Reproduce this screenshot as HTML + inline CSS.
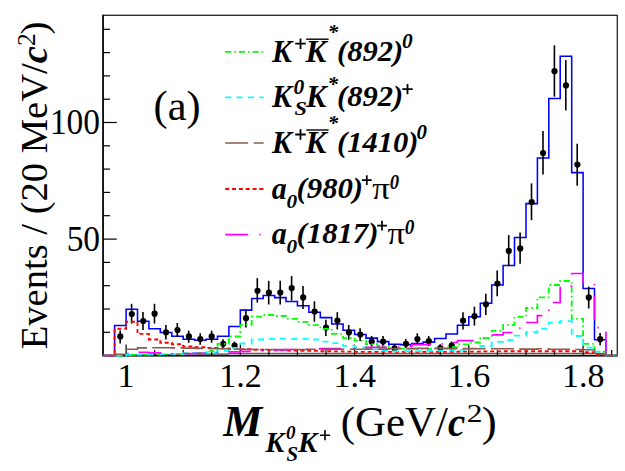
<!DOCTYPE html>
<html><head><meta charset="utf-8"><style>
html,body{margin:0;padding:0;background:#fff;}
body{width:625px;height:471px;overflow:hidden;position:relative;font-family:"Liberation Serif",serif;color:#000;}
svg{position:absolute;left:0;top:0;}
text{font-family:"Liberation Serif",serif;fill:#000;}
.bi{font-weight:bold;font-style:italic;}
</style></head><body>
<svg width="625" height="471" viewBox="0 0 625 471">
<rect x="103.2" y="15.3" width="514.1" height="340.3" fill="none" stroke="#1a1a1a" stroke-width="1.25"/>
<path d="M103.10 14.7V355.60H617.9" fill="none" stroke="#111" stroke-width="1.8" stroke-linejoin="miter"/>
<line x1="103.2" y1="355.6" x2="116.8" y2="355.6" stroke="#000" stroke-width="1.2"/>
<line x1="103.2" y1="332.3" x2="110.0" y2="332.3" stroke="#000" stroke-width="1.2"/>
<line x1="103.2" y1="309.0" x2="110.0" y2="309.0" stroke="#000" stroke-width="1.2"/>
<line x1="103.2" y1="285.7" x2="110.0" y2="285.7" stroke="#000" stroke-width="1.2"/>
<line x1="103.2" y1="262.4" x2="110.0" y2="262.4" stroke="#000" stroke-width="1.2"/>
<line x1="103.2" y1="239.1" x2="116.8" y2="239.1" stroke="#000" stroke-width="1.2"/>
<line x1="103.2" y1="215.7" x2="110.0" y2="215.7" stroke="#000" stroke-width="1.2"/>
<line x1="103.2" y1="192.4" x2="110.0" y2="192.4" stroke="#000" stroke-width="1.2"/>
<line x1="103.2" y1="169.1" x2="110.0" y2="169.1" stroke="#000" stroke-width="1.2"/>
<line x1="103.2" y1="145.8" x2="110.0" y2="145.8" stroke="#000" stroke-width="1.2"/>
<line x1="103.2" y1="122.5" x2="116.8" y2="122.5" stroke="#000" stroke-width="1.2"/>
<line x1="103.2" y1="99.2" x2="110.0" y2="99.2" stroke="#000" stroke-width="1.2"/>
<line x1="103.2" y1="75.9" x2="110.0" y2="75.9" stroke="#000" stroke-width="1.2"/>
<line x1="103.2" y1="52.6" x2="110.0" y2="52.6" stroke="#000" stroke-width="1.2"/>
<line x1="103.2" y1="29.3" x2="110.0" y2="29.3" stroke="#000" stroke-width="1.2"/>
<line x1="126.1" y1="355.6" x2="126.1" y2="344.4" stroke="#000" stroke-width="1.2"/>
<line x1="154.6" y1="355.6" x2="154.6" y2="350.0" stroke="#000" stroke-width="1.2"/>
<line x1="183.2" y1="355.6" x2="183.2" y2="350.0" stroke="#000" stroke-width="1.2"/>
<line x1="211.7" y1="355.6" x2="211.7" y2="350.0" stroke="#000" stroke-width="1.2"/>
<line x1="240.3" y1="355.6" x2="240.3" y2="344.4" stroke="#000" stroke-width="1.2"/>
<line x1="268.9" y1="355.6" x2="268.9" y2="350.0" stroke="#000" stroke-width="1.2"/>
<line x1="297.4" y1="355.6" x2="297.4" y2="350.0" stroke="#000" stroke-width="1.2"/>
<line x1="326.0" y1="355.6" x2="326.0" y2="350.0" stroke="#000" stroke-width="1.2"/>
<line x1="354.6" y1="355.6" x2="354.6" y2="344.4" stroke="#000" stroke-width="1.2"/>
<line x1="383.1" y1="355.6" x2="383.1" y2="350.0" stroke="#000" stroke-width="1.2"/>
<line x1="411.7" y1="355.6" x2="411.7" y2="350.0" stroke="#000" stroke-width="1.2"/>
<line x1="440.3" y1="355.6" x2="440.3" y2="350.0" stroke="#000" stroke-width="1.2"/>
<line x1="468.8" y1="355.6" x2="468.8" y2="344.4" stroke="#000" stroke-width="1.2"/>
<line x1="497.4" y1="355.6" x2="497.4" y2="350.0" stroke="#000" stroke-width="1.2"/>
<line x1="526.0" y1="355.6" x2="526.0" y2="350.0" stroke="#000" stroke-width="1.2"/>
<line x1="554.5" y1="355.6" x2="554.5" y2="350.0" stroke="#000" stroke-width="1.2"/>
<line x1="583.1" y1="355.6" x2="583.1" y2="344.4" stroke="#000" stroke-width="1.2"/>
<line x1="611.7" y1="355.6" x2="611.7" y2="350.0" stroke="#000" stroke-width="1.2"/>
<path d="M103.2 355.6 L103.2 355.6 L114.6 355.6 L114.6 325.5 L126.1 325.5 L126.1 309.2 L137.5 309.2 L137.5 321.3 L148.9 321.3 L148.9 328.8 L160.3 328.8 L160.3 332.5 L171.8 332.5 L171.8 336.3 L183.2 336.3 L183.2 339.3 L194.6 339.3 L194.6 340.2 L206.0 340.2 L206.0 339.3 L217.5 339.3 L217.5 336.3 L228.9 336.3 L228.9 326.5 L240.3 326.5 L240.3 310.1 L251.7 310.1 L251.7 298.5 L263.2 298.5 L263.2 295.5 L274.6 295.5 L274.6 297.6 L286.0 297.6 L286.0 301.5 L297.4 301.5 L297.4 305.7 L308.9 305.7 L308.9 312.2 L320.3 312.2 L320.3 317.6 L331.7 317.6 L331.7 323.9 L343.1 323.9 L343.1 330.2 L354.6 330.2 L354.6 334.4 L366.0 334.4 L366.0 338.1 L377.4 338.1 L377.4 341.6 L388.8 341.6 L388.8 344.2 L400.3 344.2 L400.3 344.6 L411.7 344.6 L411.7 343.5 L423.1 343.5 L423.1 342.1 L434.6 342.1 L434.6 338.4 L446.0 338.4 L446.0 333.9 L457.4 333.9 L457.4 325.3 L468.8 325.3 L468.8 316.7 L480.3 316.7 L480.3 303.2 L491.7 303.2 L491.7 285.0 L503.1 285.0 L503.1 265.4 L514.5 265.4 L514.5 237.4 L526.0 237.4 L526.0 203.6 L537.4 203.6 L537.4 157.9 L548.8 157.9 L548.8 98.5 L560.2 98.5 L560.2 56.3 L571.7 56.3 L571.7 172.6 L583.1 172.6 L583.1 288.5 L594.5 288.5 L594.5 339.7 L605.9 339.7 L605.9 355.6 L617.4 355.6 L617.4 355.6" fill="none" stroke="#0000ff" stroke-width="1.55" />
<line x1="120.2" y1="330.6" x2="120.2" y2="343.4" stroke="#000" stroke-width="1.6"/>
<circle cx="120.3" cy="336.4" r="3.1" fill="#000"/>
<line x1="131.6" y1="303.8" x2="131.6" y2="323.6" stroke="#000" stroke-width="1.6"/>
<circle cx="131.8" cy="314.0" r="3.1" fill="#000"/>
<line x1="143.0" y1="312.1" x2="143.0" y2="330.0" stroke="#000" stroke-width="1.6"/>
<circle cx="143.2" cy="321.0" r="3.1" fill="#000"/>
<line x1="154.5" y1="303.8" x2="154.5" y2="323.6" stroke="#000" stroke-width="1.6"/>
<circle cx="154.6" cy="313.7" r="3.1" fill="#000"/>
<line x1="165.9" y1="324.9" x2="165.9" y2="339.6" stroke="#000" stroke-width="1.6"/>
<circle cx="166.0" cy="332.3" r="3.1" fill="#000"/>
<line x1="177.3" y1="323.0" x2="177.3" y2="337.0" stroke="#000" stroke-width="1.6"/>
<circle cx="177.5" cy="330.0" r="3.1" fill="#000"/>
<line x1="188.7" y1="330.6" x2="188.7" y2="342.8" stroke="#000" stroke-width="1.6"/>
<circle cx="188.9" cy="336.4" r="3.1" fill="#000"/>
<line x1="200.2" y1="333.2" x2="200.2" y2="344.7" stroke="#000" stroke-width="1.6"/>
<circle cx="200.3" cy="339.0" r="3.1" fill="#000"/>
<line x1="211.6" y1="330.6" x2="211.6" y2="342.8" stroke="#000" stroke-width="1.6"/>
<circle cx="211.7" cy="336.4" r="3.1" fill="#000"/>
<line x1="223.0" y1="339.2" x2="223.0" y2="348.6" stroke="#000" stroke-width="1.6"/>
<circle cx="223.2" cy="343.8" r="3.1" fill="#000"/>
<line x1="234.4" y1="341.5" x2="234.4" y2="349.2" stroke="#000" stroke-width="1.6"/>
<circle cx="234.6" cy="345.6" r="3.1" fill="#000"/>
<line x1="245.9" y1="309.5" x2="245.9" y2="327.4" stroke="#000" stroke-width="1.6"/>
<circle cx="246.0" cy="318.2" r="3.1" fill="#000"/>
<line x1="257.3" y1="278.2" x2="257.3" y2="302.6" stroke="#000" stroke-width="1.6"/>
<circle cx="257.5" cy="290.8" r="3.1" fill="#000"/>
<line x1="268.7" y1="280.8" x2="268.7" y2="304.5" stroke="#000" stroke-width="1.6"/>
<circle cx="268.9" cy="292.6" r="3.1" fill="#000"/>
<line x1="280.2" y1="280.8" x2="280.2" y2="304.5" stroke="#000" stroke-width="1.6"/>
<circle cx="280.3" cy="292.6" r="3.1" fill="#000"/>
<line x1="291.6" y1="275.9" x2="291.6" y2="300.6" stroke="#000" stroke-width="1.6"/>
<circle cx="291.7" cy="288.1" r="3.1" fill="#000"/>
<line x1="303.0" y1="285.9" x2="303.0" y2="309.0" stroke="#000" stroke-width="1.6"/>
<circle cx="303.2" cy="297.4" r="3.1" fill="#000"/>
<line x1="314.4" y1="301.3" x2="314.4" y2="321.8" stroke="#000" stroke-width="1.6"/>
<circle cx="314.6" cy="311.5" r="3.1" fill="#000"/>
<line x1="325.9" y1="319.8" x2="325.9" y2="335.9" stroke="#000" stroke-width="1.6"/>
<circle cx="326.0" cy="327.5" r="3.1" fill="#000"/>
<line x1="337.3" y1="312.2" x2="337.3" y2="329.4" stroke="#000" stroke-width="1.6"/>
<circle cx="337.4" cy="320.5" r="3.1" fill="#000"/>
<line x1="348.7" y1="325.0" x2="348.7" y2="339.7" stroke="#000" stroke-width="1.6"/>
<circle cx="348.9" cy="332.4" r="3.1" fill="#000"/>
<line x1="360.1" y1="328.2" x2="360.1" y2="341.0" stroke="#000" stroke-width="1.6"/>
<circle cx="360.3" cy="334.6" r="3.1" fill="#000"/>
<line x1="371.6" y1="335.9" x2="371.6" y2="346.7" stroke="#000" stroke-width="1.6"/>
<circle cx="371.7" cy="341.6" r="3.1" fill="#000"/>
<line x1="383.0" y1="335.9" x2="383.0" y2="346.7" stroke="#000" stroke-width="1.6"/>
<circle cx="383.1" cy="341.6" r="3.1" fill="#000"/>
<line x1="394.4" y1="344.2" x2="394.4" y2="351.9" stroke="#000" stroke-width="1.6"/>
<circle cx="394.6" cy="348.4" r="3.1" fill="#000"/>
<line x1="405.8" y1="339.0" x2="405.8" y2="348.0" stroke="#000" stroke-width="1.6"/>
<circle cx="406.0" cy="343.8" r="3.1" fill="#000"/>
<line x1="417.3" y1="333.3" x2="417.3" y2="344.2" stroke="#000" stroke-width="1.6"/>
<circle cx="417.4" cy="339.0" r="3.1" fill="#000"/>
<line x1="428.7" y1="335.9" x2="428.7" y2="346.1" stroke="#000" stroke-width="1.6"/>
<circle cx="428.8" cy="341.2" r="3.1" fill="#000"/>
<line x1="440.1" y1="344.2" x2="440.1" y2="351.2" stroke="#000" stroke-width="1.6"/>
<circle cx="440.3" cy="348.0" r="3.1" fill="#000"/>
<line x1="451.5" y1="341.6" x2="451.5" y2="349.9" stroke="#000" stroke-width="1.6"/>
<circle cx="451.7" cy="345.7" r="3.1" fill="#000"/>
<line x1="463.0" y1="312.2" x2="463.0" y2="329.4" stroke="#000" stroke-width="1.6"/>
<circle cx="463.1" cy="320.5" r="3.1" fill="#000"/>
<line x1="474.4" y1="306.6" x2="474.4" y2="325.6" stroke="#000" stroke-width="1.6"/>
<circle cx="474.5" cy="316.2" r="3.1" fill="#000"/>
<line x1="485.8" y1="293.8" x2="485.8" y2="315.0" stroke="#000" stroke-width="1.6"/>
<circle cx="486.0" cy="304.3" r="3.1" fill="#000"/>
<line x1="497.2" y1="270.5" x2="497.2" y2="296.3" stroke="#000" stroke-width="1.6"/>
<circle cx="497.4" cy="283.5" r="3.1" fill="#000"/>
<line x1="508.7" y1="235.1" x2="508.7" y2="266.2" stroke="#000" stroke-width="1.6"/>
<circle cx="508.8" cy="250.9" r="3.1" fill="#000"/>
<line x1="520.1" y1="232.6" x2="520.1" y2="263.7" stroke="#000" stroke-width="1.6"/>
<circle cx="520.2" cy="248.4" r="3.1" fill="#000"/>
<line x1="531.5" y1="183.4" x2="531.5" y2="220.2" stroke="#000" stroke-width="1.6"/>
<circle cx="531.7" cy="202.0" r="3.1" fill="#000"/>
<line x1="543.0" y1="131.0" x2="543.0" y2="174.5" stroke="#000" stroke-width="1.6"/>
<circle cx="543.1" cy="153.0" r="3.1" fill="#000"/>
<line x1="554.4" y1="45.4" x2="554.4" y2="96.6" stroke="#000" stroke-width="1.6"/>
<circle cx="554.5" cy="71.2" r="3.1" fill="#000"/>
<line x1="565.8" y1="60.1" x2="565.8" y2="110.5" stroke="#000" stroke-width="1.6"/>
<circle cx="566.0" cy="85.4" r="3.1" fill="#000"/>
<line x1="577.2" y1="143.8" x2="577.2" y2="185.7" stroke="#000" stroke-width="1.6"/>
<circle cx="577.4" cy="164.6" r="3.1" fill="#000"/>
<line x1="588.7" y1="286.6" x2="588.7" y2="308.5" stroke="#000" stroke-width="1.6"/>
<circle cx="588.8" cy="297.4" r="3.1" fill="#000"/>
<line x1="600.1" y1="333.0" x2="600.1" y2="345.2" stroke="#000" stroke-width="1.6"/>
<circle cx="600.2" cy="339.2" r="3.1" fill="#000"/>
<path d="M103.2 355.6 L103.2 355.6 L114.6 355.6 L114.6 354.9 L126.1 354.9 L126.1 354.9 L137.5 354.9 L137.5 354.9 L148.9 354.9 L148.9 354.9 L160.3 354.9 L160.3 354.9 L171.8 354.9 L171.8 354.0 L183.2 354.0 L183.2 354.0 L194.6 354.0 L194.6 354.0 L206.0 354.0 L206.0 354.0 L217.5 354.0 L217.5 354.0 L228.9 354.0 L228.9 353.3 L240.3 353.3 L240.3 353.3 L251.7 353.3 L251.7 353.3 L263.2 353.3 L263.2 353.3 L274.6 353.3 L274.6 353.3 L286.0 353.3 L286.0 353.3 L297.4 353.3 L297.4 353.3 L308.9 353.3 L308.9 353.3 L320.3 353.3 L320.3 353.3 L331.7 353.3 L331.7 353.3 L343.1 353.3 L343.1 353.3 L354.6 353.3 L354.6 353.3 L366.0 353.3 L366.0 353.3 L377.4 353.3 L377.4 353.3 L388.8 353.3 L388.8 353.3 L400.3 353.3 L400.3 353.3 L411.7 353.3 L411.7 353.3 L423.1 353.3 L423.1 353.3 L434.6 353.3 L434.6 353.3 L446.0 353.3 L446.0 353.3 L457.4 353.3 L457.4 353.3 L468.8 353.3 L468.8 353.3 L480.3 353.3 L480.3 353.3 L491.7 353.3 L491.7 353.3 L503.1 353.3 L503.1 353.3 L514.5 353.3 L514.5 353.3 L526.0 353.3 L526.0 353.3 L537.4 353.3 L537.4 353.3 L548.8 353.3 L548.8 353.3 L560.2 353.3 L560.2 353.3 L571.7 353.3 L571.7 353.3 L583.1 353.3 L583.1 353.3 L594.5 353.3 L594.5 353.3 L605.9 353.3 L605.9 355.6 L617.4 355.6 L617.4 355.6" fill="none" stroke="#000" stroke-width="0.8" />
<path d="M103.2 355.6 L103.2 355.6 L114.6 355.6 L114.6 328.8 L126.1 328.8 L126.1 321.8 L137.5 321.8 L137.5 333.9 L148.9 333.9 L148.9 339.5 L160.3 339.5 L160.3 342.8 L171.8 342.8 L171.8 344.2 L183.2 344.2 L183.2 346.5 L194.6 346.5 L194.6 347.2 L206.0 347.2 L206.0 347.9 L217.5 347.9 L217.5 348.4 L228.9 348.4 L228.9 348.8 L240.3 348.8 L240.3 349.3 L251.7 349.3 L251.7 349.8 L263.2 349.8 L263.2 350.0 L274.6 350.0 L274.6 350.2 L286.0 350.2 L286.0 350.5 L297.4 350.5 L297.4 350.7 L308.9 350.7 L308.9 350.9 L320.3 350.9 L320.3 351.2 L331.7 351.2 L331.7 351.4 L343.1 351.4 L343.1 351.6 L354.6 351.6 L354.6 351.9 L366.0 351.9 L366.0 351.9 L377.4 351.9 L377.4 351.9 L388.8 351.9 L388.8 351.9 L400.3 351.9 L400.3 351.9 L411.7 351.9 L411.7 351.9 L423.1 351.9 L423.1 351.9 L434.6 351.9 L434.6 351.9 L446.0 351.9 L446.0 351.9 L457.4 351.9 L457.4 351.6 L468.8 351.6 L468.8 351.6 L480.3 351.6 L480.3 351.4 L491.7 351.4 L491.7 351.4 L503.1 351.4 L503.1 351.2 L514.5 351.2 L514.5 351.2 L526.0 351.2 L526.0 351.2 L537.4 351.2 L537.4 351.2 L548.8 351.2 L548.8 351.2 L560.2 351.2 L560.2 351.2 L571.7 351.2 L571.7 351.2 L583.1 351.2 L583.1 352.1 L594.5 352.1 L594.5 354.7 L605.9 354.7 L605.9 355.6 L617.4 355.6 L617.4 355.6" fill="none" stroke="#ff0000" stroke-width="1.9" stroke-dasharray="4.0 2.84" />
<path d="M103.2 355.6 L103.2 355.6 L114.6 355.6 L114.6 355.6 L126.1 355.6 L126.1 354.9 L137.5 354.9 L137.5 354.7 L148.9 354.7 L148.9 354.4 L160.3 354.4 L160.3 354.2 L171.8 354.2 L171.8 354.0 L183.2 354.0 L183.2 353.5 L194.6 353.5 L194.6 352.8 L206.0 352.8 L206.0 351.4 L217.5 351.4 L217.5 343.9 L228.9 343.9 L228.9 336.5 L240.3 336.5 L240.3 324.8 L251.7 324.8 L251.7 316.7 L263.2 316.7 L263.2 315.0 L274.6 315.0 L274.6 316.0 L286.0 316.0 L286.0 318.8 L297.4 318.8 L297.4 321.8 L308.9 321.8 L308.9 325.1 L320.3 325.1 L320.3 328.8 L331.7 328.8 L331.7 333.9 L343.1 333.9 L343.1 338.1 L354.6 338.1 L354.6 340.9 L366.0 340.9 L366.0 344.2 L377.4 344.2 L377.4 346.0 L388.8 346.0 L388.8 348.4 L400.3 348.4 L400.3 348.6 L411.7 348.6 L411.7 348.8 L423.1 348.8 L423.1 348.8 L434.6 348.8 L434.6 348.4 L446.0 348.4 L446.0 347.2 L457.4 347.2 L457.4 344.4 L468.8 344.4 L468.8 342.5 L480.3 342.5 L480.3 338.1 L491.7 338.1 L491.7 330.9 L503.1 330.9 L503.1 324.8 L514.5 324.8 L514.5 316.9 L526.0 316.9 L526.0 308.0 L537.4 308.0 L537.4 297.3 L548.8 297.3 L548.8 285.0 L560.2 285.0 L560.2 281.0 L571.7 281.0 L571.7 318.8 L583.1 318.8 L583.1 343.9 L594.5 343.9 L594.5 351.6 L605.9 351.6 L605.9 355.6 L617.4 355.6 L617.4 355.6" fill="none" stroke="#00ff00" stroke-width="1.8" stroke-dasharray="6 3.05 1.6 3.05" />
<path d="M103.2 355.6 L103.2 355.6 L114.6 355.6 L114.6 355.6 L126.1 355.6 L126.1 354.9 L137.5 354.9 L137.5 354.7 L148.9 354.7 L148.9 354.4 L160.3 354.4 L160.3 354.2 L171.8 354.2 L171.8 354.0 L183.2 354.0 L183.2 353.5 L194.6 353.5 L194.6 353.0 L206.0 353.0 L206.0 352.3 L217.5 352.3 L217.5 350.9 L228.9 350.9 L228.9 347.9 L240.3 347.9 L240.3 343.5 L251.7 343.5 L251.7 339.5 L263.2 339.5 L263.2 338.8 L274.6 338.8 L274.6 338.6 L286.0 338.6 L286.0 338.8 L297.4 338.8 L297.4 338.8 L308.9 338.8 L308.9 339.5 L320.3 339.5 L320.3 341.6 L331.7 341.6 L331.7 343.2 L343.1 343.2 L343.1 345.8 L354.6 345.8 L354.6 347.4 L366.0 347.4 L366.0 349.3 L377.4 349.3 L377.4 350.7 L388.8 350.7 L388.8 351.2 L400.3 351.2 L400.3 351.2 L411.7 351.2 L411.7 351.2 L423.1 351.2 L423.1 350.9 L434.6 350.9 L434.6 350.9 L446.0 350.9 L446.0 350.7 L457.4 350.7 L457.4 349.8 L468.8 349.8 L468.8 348.4 L480.3 348.4 L480.3 346.0 L491.7 346.0 L491.7 341.8 L503.1 341.8 L503.1 340.2 L514.5 340.2 L514.5 335.6 L526.0 335.6 L526.0 332.1 L537.4 332.1 L537.4 328.6 L548.8 328.6 L548.8 322.7 L560.2 322.7 L560.2 321.1 L571.7 321.1 L571.7 336.0 L583.1 336.0 L583.1 347.7 L594.5 347.7 L594.5 351.6 L605.9 351.6 L605.9 355.6 L617.4 355.6 L617.4 355.6" fill="none" stroke="#00ffff" stroke-width="1.8" stroke-dasharray="6 5.4" />
<path d="M103.2 355.6 L103.2 355.6 L114.6 355.6 L114.6 354.7 L126.1 354.7 L126.1 353.5 L137.5 353.5 L137.5 352.3 L148.9 352.3 L148.9 352.8 L160.3 352.8 L160.3 353.5 L171.8 353.5 L171.8 354.0 L183.2 354.0 L183.2 353.7 L194.6 353.7 L194.6 353.3 L206.0 353.3 L206.0 352.8 L217.5 352.8 L217.5 352.3 L228.9 352.3 L228.9 351.9 L240.3 351.9 L240.3 351.4 L251.7 351.4 L251.7 350.9 L263.2 350.9 L263.2 350.5 L274.6 350.5 L274.6 350.0 L286.0 350.0 L286.0 349.5 L297.4 349.5 L297.4 349.1 L308.9 349.1 L308.9 348.8 L320.3 348.8 L320.3 348.6 L331.7 348.6 L331.7 348.6 L343.1 348.6 L343.1 348.6 L354.6 348.6 L354.6 348.4 L366.0 348.4 L366.0 347.4 L377.4 347.4 L377.4 347.4 L388.8 347.4 L388.8 347.2 L400.3 347.2 L400.3 346.3 L411.7 346.3 L411.7 344.6 L423.1 344.6 L423.1 344.6 L434.6 344.6 L434.6 343.9 L446.0 343.9 L446.0 342.5 L457.4 342.5 L457.4 340.7 L468.8 340.7 L468.8 340.7 L480.3 340.7 L480.3 338.4 L491.7 338.4 L491.7 334.9 L503.1 334.9 L503.1 332.5 L514.5 332.5 L514.5 328.1 L526.0 328.1 L526.0 322.5 L537.4 322.5 L537.4 315.7 L548.8 315.7 L548.8 302.5 L560.2 302.5 L560.2 285.9 L571.7 285.9 L571.7 273.5 L583.1 273.5 L583.1 282.9 L594.5 282.9 L594.5 327.6 L605.9 327.6 L605.9 355.6 L617.4 355.6 L617.4 355.6" fill="none" stroke="#ff00ff" stroke-width="1.7" stroke-dasharray="23 11.2 1.4 11.14" stroke-dashoffset="8"/>
<path d="M103.2 355.6 L103.2 355.6 L114.6 355.6 L114.6 354.2 L126.1 354.2 L126.1 349.3 L137.5 349.3 L137.5 347.9 L148.9 347.9 L148.9 347.7 L160.3 347.7 L160.3 347.7 L171.8 347.7 L171.8 347.9 L183.2 347.9 L183.2 348.1 L194.6 348.1 L194.6 348.4 L206.0 348.4 L206.0 348.6 L217.5 348.6 L217.5 348.8 L228.9 348.8 L228.9 349.1 L240.3 349.1 L240.3 349.3 L251.7 349.3 L251.7 349.5 L263.2 349.5 L263.2 349.5 L274.6 349.5 L274.6 349.5 L286.0 349.5 L286.0 349.5 L297.4 349.5 L297.4 349.5 L308.9 349.5 L308.9 349.3 L320.3 349.3 L320.3 349.3 L331.7 349.3 L331.7 349.3 L343.1 349.3 L343.1 349.3 L354.6 349.3 L354.6 349.3 L366.0 349.3 L366.0 349.1 L377.4 349.1 L377.4 349.1 L388.8 349.1 L388.8 348.8 L400.3 348.8 L400.3 348.6 L411.7 348.6 L411.7 348.4 L423.1 348.4 L423.1 348.4 L434.6 348.4 L434.6 348.4 L446.0 348.4 L446.0 348.6 L457.4 348.6 L457.4 348.6 L468.8 348.6 L468.8 348.8 L480.3 348.8 L480.3 348.8 L491.7 348.8 L491.7 348.8 L503.1 348.8 L503.1 348.8 L514.5 348.8 L514.5 349.1 L526.0 349.1 L526.0 349.1 L537.4 349.1 L537.4 348.8 L548.8 348.8 L548.8 349.3 L560.2 349.3 L560.2 349.3 L571.7 349.3 L571.7 349.5 L583.1 349.5 L583.1 349.8 L594.5 349.8 L594.5 354.4 L605.9 354.4 L605.9 355.6 L617.4 355.6 L617.4 355.6" fill="none" stroke="#8a5b4f" stroke-width="1.6" stroke-dasharray="23 5.5" />
<line x1="225.2" y1="51.8" x2="263.6" y2="51.8" stroke="#00ff00" stroke-width="1.8" stroke-dasharray="6 3.05 1.6 3.05"/>
<line x1="225.2" y1="97.4" x2="263.6" y2="97.4" stroke="#00ffff" stroke-width="1.8" stroke-dasharray="6 5.4"/>
<line x1="225.2" y1="143.0" x2="263.6" y2="143.0" stroke="#8a5b4f" stroke-width="1.6" stroke-dasharray="23 5.5"/>
<line x1="225.2" y1="189.0" x2="263.6" y2="189.0" stroke="#ff0000" stroke-width="1.9" stroke-dasharray="4.0 2.84"/>
<line x1="225.2" y1="234.6" x2="263.6" y2="234.6" stroke="#ff00ff" stroke-width="1.7" stroke-dasharray="23 11.2 1.4 11.14"/>
<g font-size="34">
<text transform="translate(100.1,133.7) scale(0.985,1.04)" text-anchor="end">100</text>
<text transform="translate(100.1,251.3) scale(0.985,1.04)" text-anchor="end">50</text>
<text x="126" y="386.9" text-anchor="middle">1</text>
<text x="240.4" y="386.9" text-anchor="middle">1.2</text>
<text x="354.7" y="386.9" text-anchor="middle">1.4</text>
<text x="469" y="386.9" text-anchor="middle">1.6</text>
<text x="583.3" y="386.9" text-anchor="middle">1.8</text>
</g>
<text x="153.6" y="119.6" font-size="42.3">(a)</text>
<text transform="translate(272.10,62.30) scale(0.2986,0.3231)" font-size="100" class="bi">K</text>
<path d="M295.2 43.7H305.8M300.5 38.4V49.0" stroke="#000" stroke-width="1.8" fill="none"/>
<text transform="translate(305.61,62.30) scale(0.3137,0.3231)" font-size="100" class="bi">K</text>
<path d="M306.2 39.2H328.6" stroke="#000" stroke-width="1.4"/>
<text transform="translate(327.84,39.00) scale(0.2071,0.2000)" font-size="100" class="bi">*</text>
<text transform="translate(337.07,61.23) scale(0.3054,0.3033)" font-size="100" class="bi">(892)</text>
<text transform="translate(401.96,48.38) scale(0.2133,0.2104)" font-size="100" class="bi">0</text>
<text transform="translate(272.10,107.40) scale(0.2986,0.3231)" font-size="100" class="bi">K</text>
<text transform="translate(293.55,94.00) scale(0.2156,0.2000)" font-size="100" class="bi">0</text>
<text transform="translate(294.46,115.31) scale(0.2224,0.1925)" font-size="100" class="bi">S</text>
<text transform="translate(306.11,107.40) scale(0.3068,0.3231)" font-size="100" class="bi">K</text>
<text transform="translate(327.60,91.39) scale(0.2119,0.2105)" font-size="100" class="bi">*</text>
<text transform="translate(337.07,106.33) scale(0.3054,0.3033)" font-size="100" class="bi">(892)</text>
<path d="M402.3 89.1H412.7M407.5 83.9V94.3" stroke="#000" stroke-width="1.8" fill="none"/>
<text transform="translate(272.10,153.10) scale(0.2986,0.3231)" font-size="100" class="bi">K</text>
<path d="M295.2 134.5H305.8M300.5 129.2V139.8" stroke="#000" stroke-width="1.8" fill="none"/>
<text transform="translate(305.61,153.10) scale(0.3137,0.3231)" font-size="100" class="bi">K</text>
<path d="M306.2 130.0H328.6" stroke="#000" stroke-width="1.4"/>
<text transform="translate(327.84,129.80) scale(0.2071,0.2000)" font-size="100" class="bi">*</text>
<text transform="translate(337.07,152.03) scale(0.3051,0.3033)" font-size="100" class="bi">(1410)</text>
<text transform="translate(416.57,139.08) scale(0.2089,0.2104)" font-size="100" class="bi">0</text>
<text transform="translate(271.80,198.89) scale(0.3000,0.3125)" font-size="100" class="bi">a</text>
<text transform="translate(286.56,207.52) scale(0.2133,0.1910)" font-size="100" class="bi">0</text>
<text transform="translate(296.56,197.83) scale(0.3073,0.3033)" font-size="100" class="bi">(980)</text>
<path d="M361.9 180.2H371.7M366.8 175.3V185.1" stroke="#000" stroke-width="1.7" fill="none"/>
<text transform="translate(372.25,198.79) scale(0.3479,0.3149)" font-size="100">π</text>
<text transform="translate(389.64,188.98) scale(0.1867,0.2090)" font-size="100" class="bi">0</text>
<text transform="translate(271.80,244.29) scale(0.3000,0.3125)" font-size="100" class="bi">a</text>
<text transform="translate(286.56,252.92) scale(0.2133,0.1910)" font-size="100" class="bi">0</text>
<text transform="translate(296.56,243.23) scale(0.3071,0.3033)" font-size="100" class="bi">(1817)</text>
<path d="M377.1 225.7H386.9M382.0 220.8V230.6" stroke="#000" stroke-width="1.7" fill="none"/>
<text transform="translate(387.55,244.19) scale(0.3458,0.3149)" font-size="100">π</text>
<text transform="translate(404.82,234.27) scale(0.1933,0.2134)" font-size="100" class="bi">0</text>
<text transform="translate(223.34,435.90) scale(0.4387,0.4446)" font-size="100" class="bi">M</text>
<text transform="translate(265.38,451.90) scale(0.2836,0.2969)" font-size="100" class="bi">K</text>
<text transform="translate(286.03,439.32) scale(0.1911,0.1910)" font-size="100" class="bi">0</text>
<text transform="translate(286.48,461.08) scale(0.2082,0.2104)" font-size="100" class="bi">S</text>
<text transform="translate(298.09,451.90) scale(0.2890,0.2969)" font-size="100" class="bi">K</text>
<path d="M319.9 435.2H330.1M325.0 430.1V440.3" stroke="#000" stroke-width="1.6" fill="none"/>
<text transform="translate(340.79,435.80) scale(0.4285,0.4320)" font-size="100">(GeV/</text>
<text transform="translate(448.01,435.88) scale(0.3881,0.4229)" font-size="100" class="bi">c</text>
<text transform="translate(466.74,421.90) scale(0.3150,0.2538)" font-size="100">2</text>
<text transform="translate(481.85,435.80) scale(0.4500,0.4320)" font-size="100">)</text>
<text transform="translate(46.9,349.3) rotate(-90)" font-size="38.6">Events / (20 MeV/<tspan class="bi">c</tspan><tspan font-size="25.5" dy="-12.3">2</tspan><tspan dy="12.3" dx="-1.2">)</tspan></text>

</svg>
</body></html>
